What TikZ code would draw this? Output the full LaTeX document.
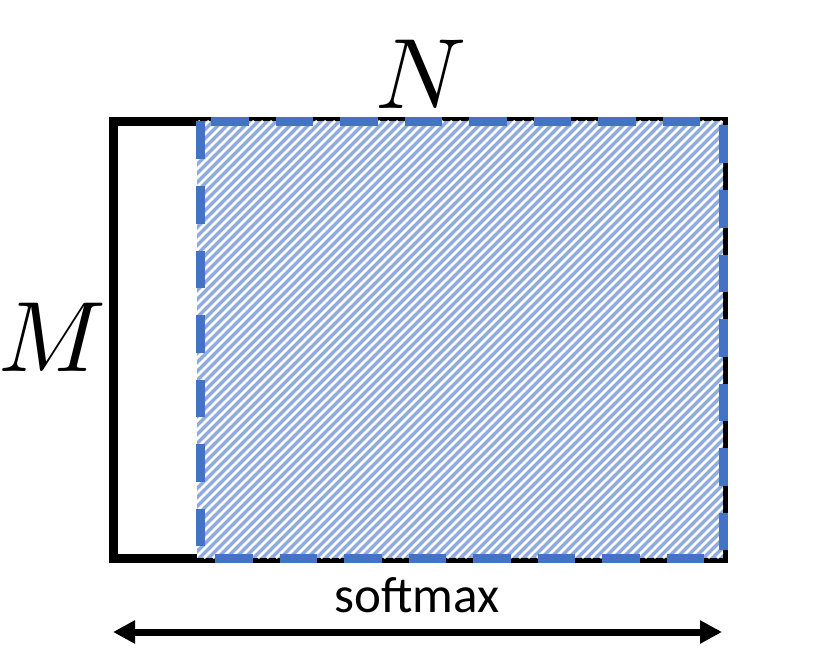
\documentclass[tikz,border=0pt]{standalone}
\usepackage{fontspec}
\usepackage{unicode-math}
\newfontfamily\calibfont{Carlito}
\usetikzlibrary{arrows.meta}
\definecolor{dashblue}{HTML}{4472C4}
\definecolor{hatchblue}{HTML}{8FAADC}
\tikzset{
    x=1pt, y=-1pt, % one unit per pixel, y pointing down
    matrixbox/.style={ % the full M x N block
        draw=black,
        line width=9pt
    },
    maskedbox/.style={ % dashed border of the softmax part
        draw=dashblue,
        line width=9pt,
        dash pattern=on 37.5pt off 27pt
    },
    stripe/.style={white, line width=2.5pt},
    dimlabel/.style={ % big N and M
        font=\fontsize{100}{100}\selectfont,
        inner sep=0pt,
        anchor=base
    },
    span/.style={ % double arrow under the block
        draw,
        {Triangle[length=22pt,width=22pt]}-{Triangle[length=22pt,width=22pt]},
        line width=7pt
    }
}

\begin{document}
\begin{tikzpicture}
    \useasboundingbox (0,0) rectangle (830,666);

    \coordinate (tl) at (113,121.5);
    \coordinate (br) at (723,558);
    \coordinate (htl) at (197,121);
    \coordinate (dtl) at (200,121.5);
    \coordinate (arrL) at (113,632);
    \coordinate (arrR) at (722,632);

    \draw[matrixbox] (tl) rectangle (br);

    % hatched region
    \begin{scope}
        \clip (htl) rectangle (br);
        \fill[hatchblue] (htl) rectangle (br);
        \foreach \s in {-246,-237,...,728}
            \draw[stripe] (\s,558) -- ++(437,-437);
    \end{scope}

    \draw[maskedbox] (dtl) rectangle (br);

    \node[dimlabel] (Nlabel) at (421,109) {$N$};
    \node[dimlabel] (Mlabel) at (52,371) {$M$};
    \node[font=\calibfont\fontsize{51}{51}\selectfont, inner sep=0pt, anchor=base] (smlabel) at (417,612) {softmax};

    \draw[span] (arrL) -- (arrR);
\end{tikzpicture}
\end{document}
